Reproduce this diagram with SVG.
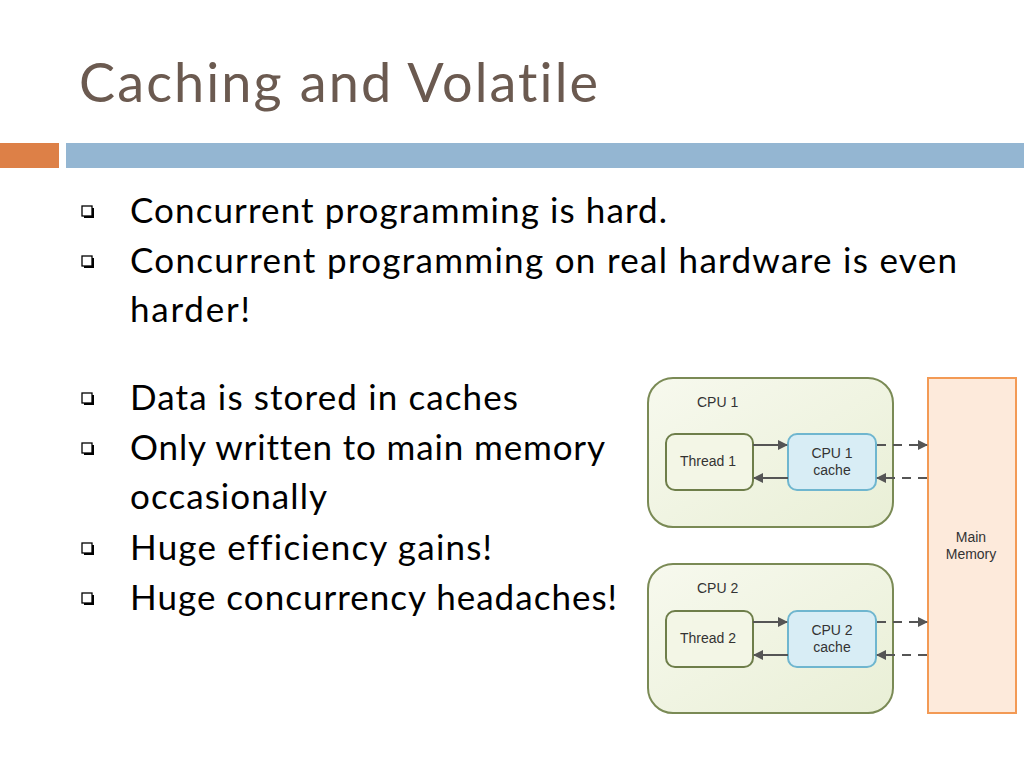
<svg xmlns="http://www.w3.org/2000/svg" width="1024" height="768" viewBox="0 0 1024 768">
<defs>
<style>
.t{font-family:Lato,"Open Sans",sans-serif;font-size:35px;fill:#000;font-variant-ligatures:none}
.d{font-family:"Liberation Sans",Arial,sans-serif;font-size:14px;fill:#333}
.cpu{stroke:#7a8a55;stroke-width:2}
.th{fill:#f3f6e6;stroke:#6e7e4a;stroke-width:2}
.ca{fill:#d8edf5;stroke:#6fb6cf;stroke-width:2}
.sol{stroke:#555;stroke-width:2;fill:none;marker-end:url(#ah)}
.das{stroke:#555;stroke-width:2;fill:none;stroke-dasharray:9,7;marker-end:url(#ah)}
</style>
<linearGradient id="cg" x1="0" y1="0" x2="1" y2="1"><stop offset="0" stop-color="#f7f9ee"/><stop offset="1" stop-color="#e9efd6"/></linearGradient>
<marker id="ah" viewBox="0 0 10 10" refX="9" refY="5" markerWidth="5" markerHeight="5" orient="auto"><path d="M0,0L10,5L0,10z" fill="#555"/></marker>
<g id="bul"><rect x="2" y="2" width="10" height="10" fill="#000"/><rect x="0" y="0" width="10" height="10" fill="#fff" stroke="#000" stroke-width="1.3"/></g>
</defs>
<rect width="1024" height="768" fill="#fff"/>
<text x="79" y="102" font-family="Lato,'Open Sans',sans-serif" font-size="54" fill="#6b5a50" textLength="519" lengthAdjust="spacing" style="font-variant-ligatures:none">Caching and Volatile</text>
<rect x="0" y="143" width="59" height="25" fill="#dd8047"/>
<rect x="66" y="143" width="958" height="25" fill="#94b6d2"/>
<use href="#bul" x="82" y="206"/><text class="t" x="130" y="223" textLength="537" lengthAdjust="spacing">Concurrent programming is hard.</text>
<use href="#bul" x="82" y="256"/><text class="t" x="130" y="273" textLength="827" lengthAdjust="spacing">Concurrent programming on real hardware is even</text>
<text class="t" x="130" y="322" textLength="120" lengthAdjust="spacing">harder!</text>
<use href="#bul" x="82" y="393"/><text class="t" x="130" y="410" textLength="388" lengthAdjust="spacing">Data is stored in caches</text>
<use href="#bul" x="82" y="443"/><text class="t" x="130" y="460" textLength="475" lengthAdjust="spacing">Only written to main memory</text>
<text class="t" x="130" y="509" textLength="197" lengthAdjust="spacing">occasionally</text>
<use href="#bul" x="82" y="543"/><text class="t" x="130" y="560" textLength="362" lengthAdjust="spacing">Huge efficiency gains!</text>
<use href="#bul" x="82" y="593"/><text class="t" x="130" y="610" textLength="487" lengthAdjust="spacing">Huge concurrency headaches!</text>
<g id="cpu1"><rect class="cpu" fill="url(#cg)" x="648" y="378" width="245" height="149" rx="25"/><text class="d" x="697" y="407">CPU 1</text></g>
<g id="thread1"><rect class="th" x="666" y="434" width="87" height="56" rx="9"/><text class="d" x="708" y="466" text-anchor="middle">Thread 1</text></g>
<g id="cache1"><rect class="ca" x="788" y="434" width="88" height="56" rx="9"/><text class="d" x="832" y="458" text-anchor="middle">CPU 1</text><text class="d" x="832" y="475" text-anchor="middle">cache</text></g>
<g id="cpu2"><rect class="cpu" fill="url(#cg)" x="648" y="564" width="245" height="149" rx="25"/><text class="d" x="697" y="593">CPU 2</text></g>
<g id="thread2"><rect class="th" x="666" y="611" width="87" height="56" rx="9"/><text class="d" x="708" y="643" text-anchor="middle">Thread 2</text></g>
<g id="cache2"><rect class="ca" x="788" y="611" width="88" height="56" rx="9"/><text class="d" x="832" y="635" text-anchor="middle">CPU 2</text><text class="d" x="832" y="652" text-anchor="middle">cache</text></g>
<g id="mem"><rect x="928" y="378" width="88" height="335" fill="#fdeadb" stroke="#f39a55" stroke-width="2"/><text class="d" x="971" y="542" text-anchor="middle">Main</text><text class="d" x="971" y="559" text-anchor="middle">Memory</text></g>
<g id="connectors">
<path class="sol" d="M753,445H787"/><path class="sol" d="M788,478H754"/>
<path class="das" d="M877,445H927"/><path class="das" d="M927,478H877"/>
<path class="sol" d="M753,622H787"/><path class="sol" d="M788,655H754"/>
<path class="das" d="M877,622H927"/><path class="das" d="M927,655H877"/>
</g>
</svg>
